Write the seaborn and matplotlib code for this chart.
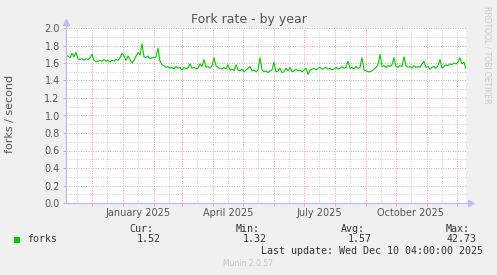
import matplotlib
matplotlib.use("Agg")
import matplotlib.pyplot as plt
import matplotlib.dates as mdates
import matplotlib.ticker as mticker
from matplotlib.patches import Rectangle
import pandas as pd
import seaborn as sns

# ---- data (2-day samples) ----
start = "2024-11-05 04:00"
end = "2025-12-10 04:00"
step_days = 2
forks = [
    1.68, 1.68, 1.66, 1.71, 1.67, 1.72, 1.65, 1.64, 1.65, 1.63,
    1.65, 1.64, 1.66, 1.70, 1.63, 1.62, 1.62, 1.63, 1.62, 1.64,
    1.62, 1.63, 1.61, 1.63, 1.62, 1.64, 1.63, 1.66, 1.71, 1.68,
    1.63, 1.68, 1.64, 1.60, 1.63, 1.68, 1.72, 1.69, 1.82, 1.67,
    1.66, 1.68, 1.65, 1.66, 1.66, 1.67, 1.77, 1.62, 1.58, 1.57,
    1.55, 1.56, 1.54, 1.55, 1.53, 1.56, 1.54, 1.55, 1.52, 1.55,
    1.53, 1.55, 1.59, 1.54, 1.55, 1.53, 1.54, 1.59, 1.56, 1.64,
    1.55, 1.56, 1.54, 1.57, 1.66, 1.57, 1.55, 1.54, 1.53, 1.55,
    1.53, 1.58, 1.52, 1.53, 1.51, 1.58, 1.52, 1.51, 1.53, 1.50,
    1.52, 1.54, 1.56, 1.51, 1.52, 1.50, 1.52, 1.66, 1.52, 1.50,
    1.51, 1.49, 1.51, 1.52, 1.61, 1.50, 1.51, 1.54, 1.49, 1.50,
    1.54, 1.51, 1.55, 1.50, 1.51, 1.53, 1.51, 1.52, 1.50, 1.52,
    1.54, 1.47, 1.52, 1.53, 1.54, 1.52, 1.54, 1.55, 1.53, 1.54,
    1.55, 1.53, 1.54, 1.52, 1.53, 1.55, 1.53, 1.54, 1.56, 1.54,
    1.55, 1.62, 1.54, 1.55, 1.53, 1.56, 1.54, 1.55, 1.66, 1.52,
    1.51, 1.50, 1.50, 1.51, 1.53, 1.55, 1.58, 1.70, 1.56, 1.57,
    1.55, 1.57, 1.56, 1.58, 1.66, 1.56, 1.55, 1.57, 1.56, 1.67,
    1.57, 1.55, 1.56, 1.54, 1.57, 1.55, 1.56, 1.55, 1.59, 1.62,
    1.55, 1.56, 1.53, 1.55, 1.56, 1.54, 1.57, 1.64, 1.54, 1.56,
    1.58, 1.57, 1.59, 1.58, 1.60, 1.59, 1.61, 1.66, 1.59, 1.61,
    1.53,
]
label_months = [1, 4, 7, 10]
series_name = "forks"
stat_names = ["Cur:", "Min:", "Avg:", "Max:"]
stat_values = ["1.52", "1.32", "1.57", "42.73"]
title = "Fork rate - by year"
ylabel = "forks / second"
last_update = "Last update: Wed Dec 10 04:00:00 2025"
side_text = "RRDTOOL / TOBI OETIKER"
footer = "Munin 2.0.57"

# ---- plot ----
sns.set_style("white")
plt.rcParams["font.family"] = ["DejaVu Sans"]

W, H = 497, 275
fig = plt.figure(figsize=(W / 100, H / 100), dpi=100, facecolor="#F0F0F0")
ax = fig.add_axes([66 / W, 1 - 203 / H, 400 / W, 175 / H])
ax.set_facecolor("white")

dates = pd.date_range(pd.Timestamp(start), periods=len(forks), freq=f"{step_days}D")
df = pd.DataFrame({"date": dates, "forks": forks})
sns.lineplot(data=df, x="date", y="forks", ax=ax, color="#00CC00", linewidth=0.8, zorder=3)

ax.set_xlim(pd.Timestamp(start), pd.Timestamp(end))
ax.set_ylim(0, 2.0)
ax.set_xlabel("")
ax.set_ylabel("")

major_c = "#E8A0A0"
minor_c = "#D0D0D0"
ax.yaxis.set_major_locator(mticker.MultipleLocator(0.2))
ax.yaxis.set_minor_locator(mticker.MultipleLocator(0.1))
ax.yaxis.set_major_formatter(mticker.FormatStrFormatter("%.1f"))
ax.xaxis.set_major_locator(mdates.MonthLocator(bymonthday=1))
ax.xaxis.set_major_formatter(mticker.NullFormatter())
ax.xaxis.set_minor_locator(mdates.MonthLocator(bymonthday=16))


def minor_fmt(x, pos):
    d = mdates.num2date(x)
    return d.strftime("%B %Y") if d.month in label_months else ""


ax.xaxis.set_minor_formatter(mticker.FuncFormatter(minor_fmt))

ax.set_axisbelow(True)
ax.grid(which="major", color=major_c, linestyle=(0, (1, 1.5)), linewidth=0.7)
ax.grid(which="minor", color=minor_c, linestyle=(0, (1, 1.5)), linewidth=0.7)

ax.tick_params(axis="y", which="major", length=2, width=0.7, color=major_c,
               labelsize=7, labelcolor="#555555", pad=2.5, left=True)
ax.tick_params(axis="y", which="minor", length=0)
ax.tick_params(axis="x", which="major", length=2, width=0.7, color=major_c, bottom=True)
ax.tick_params(axis="x", which="minor", length=0, labelsize=7, labelcolor="#555555", pad=3.5)

for s in ax.spines.values():
    s.set_visible(False)

axc = "#BDBDF0"
ax.plot([0, 0], [0, 1.035], transform=ax.transAxes, color=axc, lw=0.9, clip_on=False, zorder=4)
ax.plot([0], [1.035], marker="^", ms=4, color=axc, transform=ax.transAxes, clip_on=False, zorder=4)
ax.plot([0, 1.012], [0, 0], transform=ax.transAxes, color=axc, lw=0.9, clip_on=False, zorder=4)
ax.plot([1.012], [0], marker=">", ms=4, color=axc, transform=ax.transAxes, clip_on=False, zorder=4)


def P(x, y):
    return x / W, 1 - y / H


fig.text(*P(248.5, 19.5), title, ha="center", va="center", fontsize=9, color="#555555")
fig.text(*P(10, 114), ylabel, rotation=90, ha="center", va="center", fontsize=8, color="#555555")
fig.text(*P(487, 55), side_text, rotation=270, ha="center", va="center", fontsize=5.5, color="#C8C8C8")
fig.text(*P(248, 264), footer, ha="center", va="center", fontsize=5.5, color="#C4C4C4")

fig.patches.append(Rectangle(P(14, 243), 6 / W, 6 / H, transform=fig.transFigure,
                             facecolor="#00CC00", edgecolor="none"))
mono = dict(family="DejaVu Sans Mono", fontsize=7.2, color="#333333", va="center")
fig.text(*P(27, 239.5), series_name, ha="left", **mono)
name_right = [153, 260, 365, 470]
val_right = [161, 267, 372, 477]
for n, v, nx, vx in zip(stat_names, stat_values, name_right, val_right):
    fig.text(*P(nx, 228.5), n, ha="right", **mono)
    fig.text(*P(vx, 239.5), v, ha="right", **mono)
fig.text(*P(483, 251.5), last_update, ha="right", **mono)

fig.savefig("out.png", dpi=100, facecolor=fig.get_facecolor())
